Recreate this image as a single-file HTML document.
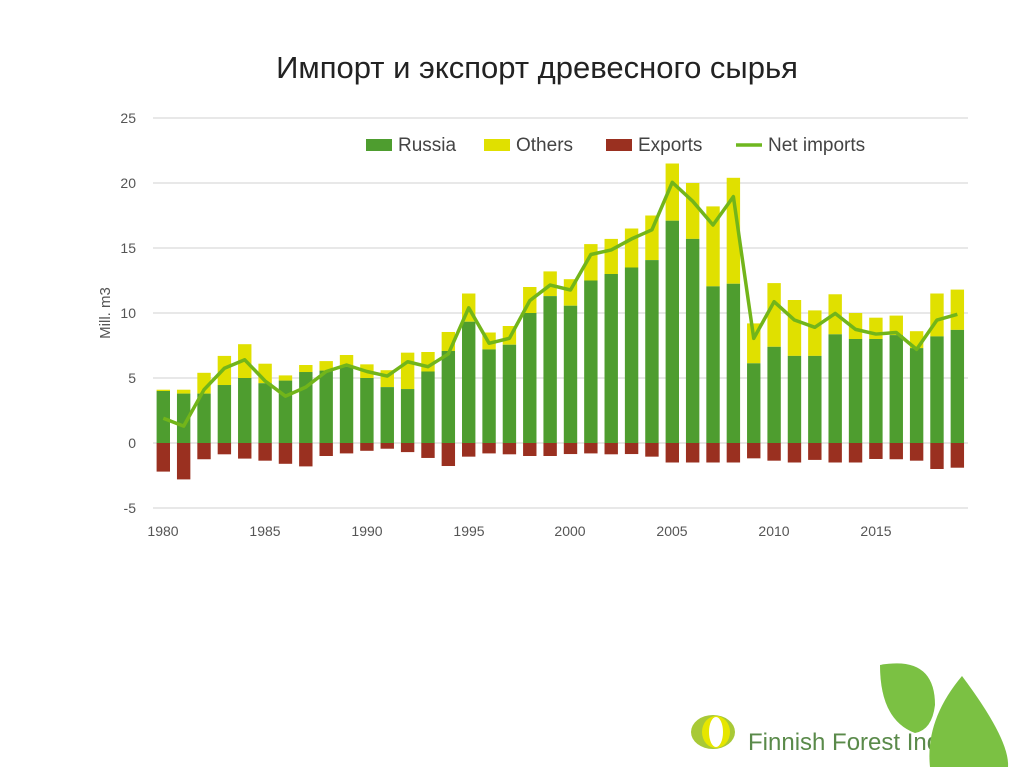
<!DOCTYPE html>
<html><head><meta charset="utf-8"><style>
body{margin:0;background:#fff;}
svg{display:block;font-family:"Liberation Sans","DejaVu Sans",sans-serif;}
</style></head><body>
<svg id="c" width="1024" height="767" viewBox="0 0 1024 767" xmlns="http://www.w3.org/2000/svg">
<rect width="1024" height="767" fill="#fff"/>
<text x="537" y="78" text-anchor="middle" font-size="31" fill="#222">Импорт и экспорт древесного сырья</text>
<g stroke="#d9d9d9" stroke-width="1.3">
<line x1="153" x2="968" y1="118" y2="118"/><line x1="153" x2="968" y1="183" y2="183"/>
<line x1="153" x2="968" y1="248" y2="248"/><line x1="153" x2="968" y1="313" y2="313"/>
<line x1="153" x2="968" y1="378" y2="378"/><line x1="153" x2="968" y1="443" y2="443"/>
<line x1="153" x2="968" y1="508" y2="508"/>
</g>
<g font-size="14" fill="#555" text-anchor="end">
<text x="136" y="123">25</text><text x="136" y="188">20</text><text x="136" y="253">15</text>
<text x="136" y="318">10</text><text x="136" y="383">5</text><text x="136" y="448">0</text><text x="136" y="513">-5</text>
</g>
<g font-size="14" fill="#555" text-anchor="middle">
<text x="163" y="536">1980</text><text x="265" y="536">1985</text><text x="367" y="536">1990</text>
<text x="469" y="536">1995</text><text x="570" y="536">2000</text><text x="672" y="536">2005</text>
<text x="774" y="536">2010</text><text x="876" y="536">2015</text>
</g>
<text transform="translate(110,313) rotate(-90)" text-anchor="middle" font-size="15" fill="#555">Mill. m3</text>
<g font-size="19" fill="#444">
<rect x="366" y="139" width="26" height="12" fill="#4e9d2f"/><text x="398" y="151">Russia</text>
<rect x="484" y="139" width="26" height="12" fill="#e0e000"/><text x="516" y="151">Others</text>
<rect x="606" y="139" width="26" height="12" fill="#9a3020"/><text x="638" y="151">Exports</text>
<line x1="736" x2="762" y1="145" y2="145" stroke="#6fb71f" stroke-width="3.5"/><text x="768" y="151">Net imports</text>
</g>
<g id="bars"></g>
<polyline id="net" fill="none" stroke="#72b51a" stroke-width="3.5" stroke-linejoin="round"/>
<g>
<ellipse cx="713" cy="732" rx="22" ry="17" fill="#a8c936"/>
<ellipse cx="716" cy="732" rx="14" ry="16" fill="#e6e600"/>
<ellipse cx="716" cy="732" rx="7" ry="15" fill="#fff"/>
<text x="748" y="750" font-size="24" fill="#5a8a4a">Finnish Forest Ind</text>
<path d="M880 665 Q935 655 935 705 Q932 730 915 733 Q880 720 880 665Z" fill="#7bc143"/>
<path d="M962 676 Q1010 740 1008 767 L930 767 Q925 720 962 676Z" fill="#7bc143"/>
</g>
</svg>
<script>
var g=[4.0,3.8,3.8,4.46,5.0,4.6,4.8,5.46,5.57,5.87,5.0,4.3,4.15,5.5,7.08,9.33,7.2,7.56,10.0,11.3,10.56,12.5,13.0,13.5,14.07,17.1,15.7,12.05,12.25,6.13,7.4,6.7,6.7,8.36,8.0,8.0,8.3,7.3,8.2,8.7];
var t=[4.1,4.1,5.4,6.7,7.6,6.1,5.2,6.0,6.3,6.77,6.05,5.6,6.95,7.0,8.54,11.5,8.5,9.0,12.0,13.2,12.6,15.3,15.7,16.5,17.5,21.5,20.0,18.2,20.4,9.2,12.3,11.0,10.2,11.44,10.0,9.64,9.8,8.6,11.5,11.8];
var e=[-2.2,-2.8,-1.25,-0.87,-1.2,-1.36,-1.6,-1.8,-1.0,-0.8,-0.6,-0.44,-0.7,-1.15,-1.77,-1.05,-0.8,-0.87,-1.0,-1.0,-0.85,-0.8,-0.87,-0.85,-1.05,-1.5,-1.5,-1.5,-1.5,-1.18,-1.36,-1.5,-1.3,-1.5,-1.5,-1.23,-1.25,-1.36,-2.0,-1.9];
var n=[1.9,1.3,4.1,5.75,6.4,4.77,3.6,4.3,5.5,6.0,5.5,5.15,6.25,5.87,6.85,10.4,7.67,8.05,10.95,12.15,11.77,14.5,14.85,15.7,16.4,20.05,18.6,16.77,18.95,8.05,10.87,9.46,8.9,9.97,8.74,8.38,8.5,7.2,9.46,9.9];
var Y=function(v){return 443-13*v;},X=function(i){return 163.3+20.36*i;};
var s='',p=[];
for(var i=0;i<40;i++){var x=X(i)-6.7;
s+='<rect x="'+x+'" y="'+Y(t[i])+'" width="13.4" height="'+(13*(t[i]-g[i]))+'" fill="#e0e000"/>';
s+='<rect x="'+x+'" y="'+Y(g[i])+'" width="13.4" height="'+(13*g[i])+'" fill="#4e9d2f"/>';
s+='<rect x="'+x+'" y="443" width="13.4" height="'+(-13*e[i])+'" fill="#9a3020"/>';
p.push(X(i)+','+Y(n[i]));}
document.getElementById('bars').innerHTML=s;
document.getElementById('net').setAttribute('points',p.join(' '));
</script>
</body></html>
